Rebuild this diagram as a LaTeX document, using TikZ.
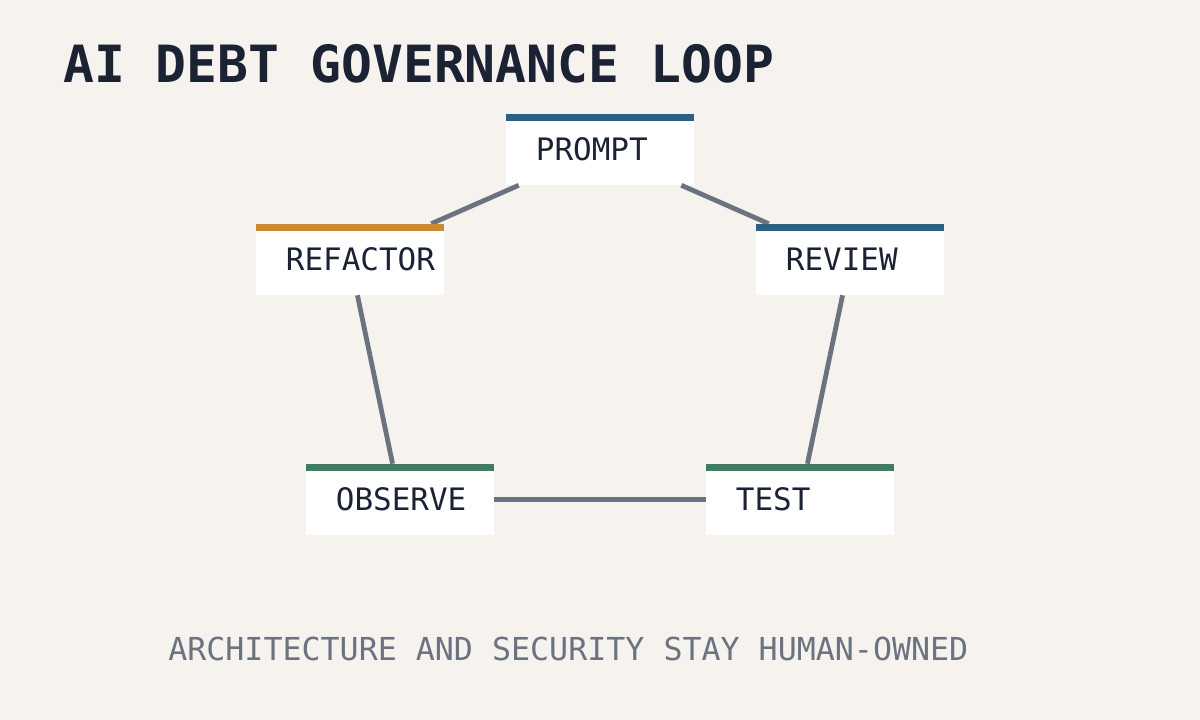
\documentclass[tikz,border=0pt]{standalone}
\usepackage{fontspec}
\setmonofont{DejaVu Sans Mono}
\usetikzlibrary{positioning}
\definecolor{bgc}{HTML}{F6F3EE}
\definecolor{inkc}{HTML}{1B2233}
\definecolor{linkc}{HTML}{6B7280}
\definecolor{bluec}{HTML}{2B5F85}
\definecolor{orangec}{HTML}{C98B2E}
\definecolor{greenc}{HTML}{3E7B62}
\tikzset{stepbox/.style={fill=white,minimum width=4.7cm,minimum height=1.775cm,
    text width=3.2cm,inner xsep=0.75cm,align=left,font=\ttfamily\fontsize{22}{24}\selectfont,text=inkc},
  link/.style={draw=linkc,line width=0.12cm}}
\newcommand{\topbar}[2]{\fill[#2] (#1.north west) rectangle ([yshift=-0.175cm]#1.north east);}
\begin{document}
\begin{tikzpicture}[x=0.025cm,y=-0.025cm]
    \fill[bgc] (0,0) rectangle (1200,720);
    \node[anchor=base west,font=\ttfamily\bfseries\fontsize{36.5}{40}\selectfont,text=inkc,inner sep=0] (title) at (63,83) {AI DEBT GOVERNANCE LOOP};
    \node[stepbox] (prompt) at (600,149.5) {PROMPT};
    \node[stepbox] (review) at (850,259.5) {REVIEW};
    \node[stepbox] (test) at (800,499.5) {TEST};
    \node[stepbox] (observe) at (400,499.5) {OBSERVE};
    \node[stepbox] (refactor) at (350,259.5) {REFACTOR};
    \draw[link] (prompt) -- (review);
    \draw[link] (review) -- (test);
    \draw[link] (test) -- (observe);
    \draw[link] (observe) -- (refactor);
    \draw[link] (refactor) -- (prompt);
    \topbar{prompt}{bluec}
    \topbar{review}{bluec}
    \topbar{refactor}{orangec}
    \topbar{test}{greenc}
    \topbar{observe}{greenc}
    \node[anchor=base west,font=\ttfamily\fontsize{22.5}{25}\selectfont,text=linkc,inner sep=0] (note) at (168,660) {ARCHITECTURE AND SECURITY STAY HUMAN-OWNED};
\end{tikzpicture}
\end{document}
